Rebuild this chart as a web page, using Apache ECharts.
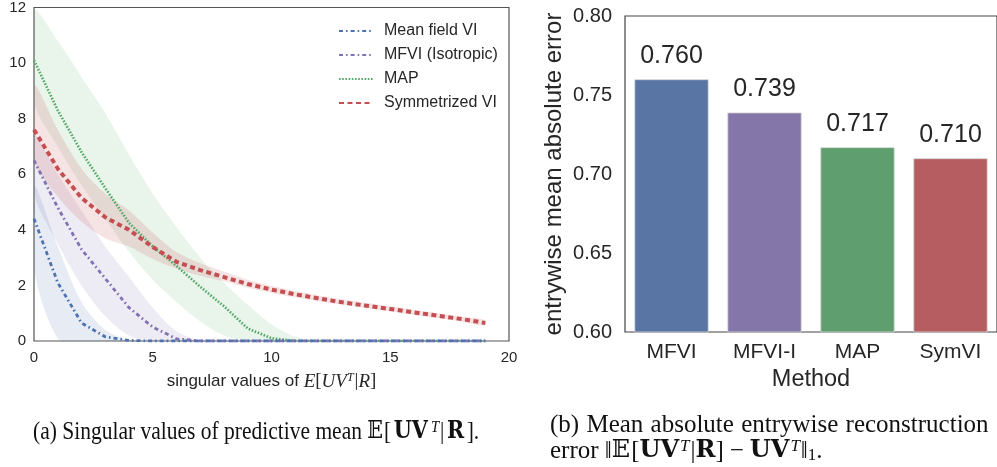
<!DOCTYPE html>
<html>
<head>
<meta charset="utf-8">
<script src="https://cdn.jsdelivr.net/npm/echarts@6/dist/echarts.min.js"></script>
<style>
html,body{margin:0;padding:0;background:#fff;}
#c{width:997px;height:467px;}
</style>
</head>
<body>
<div id="c"></div>
<script>
// ---- Panel (a): singular values ----
const sigIndex = [0,1,2,3,4,5,6,7,8,9,10,11,12,13,14,15,16,17,18,19];
const mfviMean = [4.4,2.1,0.65,0.15,0.02,0,0,0,0,0,0,0,0,0,0,0,0,0,0,0];
const mfviLow  = [2.6,0.1,0,0,0,0,0,0,0,0,0,0,0,0,0,0,0,0,0,0];
const mfviHigh = [5.6,3.4,1.4,0.4,0.05,0,0,0,0,0,0,0,0,0,0,0,0,0,0,0];
const isoMean  = [6.5,4.8,3.3,2.25,1.2,0.5,0.08,0,0,0,0,0,0,0,0,0,0,0,0,0];
const isoLow   = [5.3,3.5,2.0,0.9,0.2,0,0,0,0,0,0,0,0,0,0,0,0,0,0,0];
const isoHigh  = [7.4,6.0,4.7,3.4,2.3,1.2,0.35,0.02,0,0,0,0,0,0,0,0,0,0,0,0];
const mapMean  = [10.1,8.3,6.8,5.5,4.25,3.4,2.7,1.95,1.25,0.45,0.1,0,0,0,0,0,0,0,0,0];
const mapLow   = [8.6,7.0,5.6,4.4,3.2,2.2,1.4,0.7,0.2,0,0,0,0,0,0,0,0,0,0,0];
const mapHigh  = [11.9,10.8,9.5,8.2,6.7,5.3,4.1,3.0,2.1,1.3,0.6,0.15,0,0,0,0,0,0,0,0];
const symMean  = [7.6,6.2,5.15,4.45,4.0,3.38,2.85,2.55,2.3,2.05,1.85,1.68,1.53,1.39,1.27,1.15,1.03,0.91,0.79,0.65];
const symLow   = [6.5,5.2,4.3,3.7,3.4,2.95,2.6,2.35,2.15,1.92,1.73,1.57,1.43,1.3,1.18,1.06,0.94,0.82,0.7,0.55];
const symHigh  = [9.2,7.6,6.2,5.3,4.7,3.9,3.2,2.8,2.5,2.2,1.98,1.8,1.64,1.49,1.37,1.25,1.12,1.0,0.88,0.75];
const lineNames = ['Mean field VI','MFVI (Isotropic)','MAP','Symmetrized VI'];
const xTicks = [0,5,10,15,20];
const yTicksA = [0,2,4,6,8,10,12];

// ---- Panel (b): bar chart ----
const methods = ['MFVI','MFVI-I','MAP','SymVI'];
const maeValues = [0.760,0.739,0.717,0.710];
const yTicksB = [0.60,0.65,0.70,0.75,0.80];

const colors = {blue:'#4C72B0', purple:'#8172B2', green:'#55A868', red:'#C44E52'};
const barColors = ['#5975A4','#8576A9','#5F9E6E','#B55D60'];

const sans = 'Liberation Sans, Arial, Helvetica, sans-serif';
const serif = 'Liberation Serif, Times New Roman, DejaVu Serif, serif';
const bserif = 'DejaVu Serif, Liberation Serif, serif';

function pts(arr){ return sigIndex.map((x,i)=>[x,arr[i]]); }

function band(low, high, color, op){
  return {type:'custom', xAxisIndex:0, yAxisIndex:0, silent:true, z:1, clip:true,
    data:[[0,0]],
    renderItem:function(params, api){
      const p = [];
      for (let i=0;i<sigIndex.length;i++) p.push(api.coord([sigIndex[i], high[i]]));
      for (let i=sigIndex.length-1;i>=0;i--) p.push(api.coord([sigIndex[i], low[i]]));
      return {type:'polygon', shape:{points:p, smooth:0.3}, style:{fill:color, opacity:op}};
    }};
}

function meanLine(name, arr, color, type, width){
  return {type:'line', name:name, xAxisIndex:0, yAxisIndex:0, data:pts(arr),
    symbol:'none', lineStyle:{color:color, type:type, width:width}, itemStyle:{color:color}, z:5};
}

const series = [
  band(mfviLow, mfviHigh, colors.blue, 0.14),
  band(isoLow, isoHigh, colors.purple, 0.14),
  band(mapLow, mapHigh, colors.green, 0.13),
  band(symLow, symHigh, colors.red, 0.16),
  meanLine(lineNames[2], mapMean, colors.green, [1.6,1.6], 2.6),
  meanLine(lineNames[1], isoMean, colors.purple, [4,3,1.6,3], 2.8),
  meanLine(lineNames[0], mfviMean, colors.blue, [4,3,1.6,3], 2.8),
  meanLine(lineNames[3], symMean, colors.red, [5,3.5], 4),
  {type:'bar', xAxisIndex:1, yAxisIndex:1, barWidth:'80%',
   data: maeValues.map((v,i)=>({value:v, itemStyle:{color:barColors[i]}})),
   itemStyle:{borderColor:'rgba(215,215,215,0.8)', borderWidth:1},
   label:{show:true, position:'top', distance:11, fontFamily:sans, fontSize:25, color:'#262626',
     formatter:(p)=>p.value.toFixed(3)}}
];

const capRich = function(fs, bpad){
  return {
    n:{fontFamily:serif, fontSize:fs, fill:'#111', lineHeight:26},
    w:{fontFamily:serif, fontSize:fs, fill:'#111', lineHeight:26, padding:[0,1,0,0]},
    b:{fontFamily:bserif, fontWeight:'bold', fontSize:fs-1, fill:'#111', lineHeight:26, padding:[0,bpad,0,bpad]},
    bb:{fontFamily:'DejaVu Serif, DejaVu Sans, serif', fontSize:fs-1, fill:'#111', lineHeight:26, padding:[0,1,0,0]},
    op:{fontFamily:serif, fontSize:fs, fill:'#111', lineHeight:26, padding:[0,6,0,6]},
    sup:{fontFamily:serif, fontStyle:'italic', fontSize:17, fill:'#111', verticalAlign:'top', lineHeight:26, padding:[0,1,6,1]},
    sub:{fontFamily:serif, fontSize:17, fill:'#111', verticalAlign:'bottom', lineHeight:26}
  };
};

const chart = echarts.init(document.getElementById('c'), null, {renderer:'canvas'});
chart.setOption({
  animation:false,
  backgroundColor:'#fff',
  grid:[
    {left:34, top:7, width:475, height:334, show:true, borderColor:'#555', borderWidth:1.2, backgroundColor:'transparent'},
    {left:625, top:16, width:380, height:316, show:true, borderColor:'#444', borderWidth:1.2, backgroundColor:'transparent'}
  ],
  legend:{
    data: lineNames.slice(),
    orient:'vertical', left:333, top:18, itemWidth:34, itemHeight:14, itemGap:8,
    textStyle:{fontFamily:sans, fontSize:16, color:'#262626', padding:[0,0,0,6]},
    itemStyle:{opacity:0}
  },
  xAxis:[
    {type:'value', gridIndex:0, min:0, max:20, interval:5,
     axisLine:{show:false}, axisTick:{show:false}, splitLine:{show:false},
     axisLabel:{fontFamily:sans, fontSize:15, color:'#262626', margin:9},
     name:'{s|singular values of }{i|E}{m|[}{i|UV}{sup|T}{m||}{i|R}{m|]}',
     nameLocation:'middle', nameGap:31,
     nameTextStyle:{rich:{
       s:{fontFamily:sans, fontSize:17, color:'#262626'},
       i:{fontFamily:serif, fontStyle:'italic', fontSize:19, color:'#262626'},
       m:{fontFamily:serif, fontSize:19, color:'#262626'},
       sup:{fontFamily:serif, fontStyle:'italic', fontSize:12, color:'#262626', verticalAlign:'top', padding:[0,1,5,0]}
     }}},
    {type:'category', gridIndex:1, data:methods,
     axisLine:{show:false}, axisTick:{show:false}, splitLine:{show:false},
     axisLabel:{fontFamily:sans, fontSize:21, color:'#262626', margin:10},
     name:'Method', nameLocation:'middle', nameGap:35,
     nameTextStyle:{fontFamily:sans, fontSize:23.5, color:'#262626'}}
  ],
  yAxis:[
    {type:'value', gridIndex:0, min:0, max:12, interval:2,
     axisLine:{show:false}, axisTick:{show:false}, splitLine:{show:false},
     axisLabel:{fontFamily:sans, fontSize:15, color:'#262626', margin:8}},
    {type:'value', gridIndex:1, min:0.60, max:0.80, interval:0.05,
     axisLine:{show:false}, axisTick:{show:false}, splitLine:{show:false},
     axisLabel:{fontFamily:sans, fontSize:20, color:'#262626', margin:13,
       formatter:(v)=>v.toFixed(2)},
     name:'entrywise mean absolute error', nameLocation:'middle', nameGap:59, nameRotate:90,
     nameTextStyle:{fontFamily:sans, fontSize:24, color:'#262626'}}
  ],
  series: series,
  graphic:[
    {type:'text', x:33, y:432, scaleX:0.86, silent:true,
     style:{
       text:'{n|(a) Singular values of predictive mean }{bb|𝔼}{n|[}{b|UV}{sup|T}{n||}{b|R}{n|].}',
       rich:capRich(25, 3), verticalAlign:'middle'
     }},
    {type:'text', x:550, y:412, silent:true,
     style:{
       text:'{w|(b)}{w| Mean}{w| absolute}{w| entrywise}{n| reconstruction}\n{n|error ‖}{bb|𝔼}{n|[}{b|UV}{sup|T}{n||}{b|R}{n|]}{op|−}{b|UV}{sup|T}{n|‖}{sub|1}{n|.}',
       rich:capRich(25, 0), verticalAlign:'top'
     }}
  ]
});
</script>
</body>
</html>
